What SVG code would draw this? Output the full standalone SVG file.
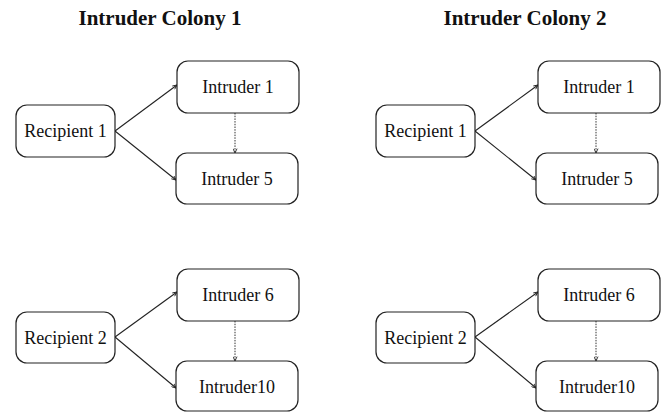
<svg xmlns="http://www.w3.org/2000/svg" width="664" height="413" viewBox="0 0 664 413">
<style>
.box{fill:#fff;stroke:#222;stroke-width:1.2}
.lbl{font-family:"Liberation Serif","Times New Roman",serif;font-size:18px;fill:#111;text-anchor:middle}
.ttl{font-family:"Liberation Serif","Times New Roman",serif;font-size:21px;font-weight:bold;fill:#111;text-anchor:middle}
.edge{stroke:#222;stroke-width:1.1;fill:none;marker-end:url(#ah)}
.dot{stroke:#333;stroke-width:1;fill:none;stroke-dasharray:1.5 1.2;marker-end:url(#ah)}
</style>
<defs>
<marker id="ah" viewBox="0 0 8 8" refX="7.5" refY="4" markerWidth="5" markerHeight="5" markerUnits="userSpaceOnUse" orient="auto">
<path d="M0.5,0.8 L7.5,4 L0.5,7.2" fill="none" stroke="#222" stroke-width="1.4"/>
</marker>
</defs>
<rect width="664" height="413" fill="#fff"/>
<text class="ttl" x="160" y="25">Intruder Colony 1</text>
<text class="ttl" x="525" y="25">Intruder Colony 2</text>
<g id="connectors">
<line class="edge" x1="115" y1="131" x2="177" y2="85"/>
<line class="edge" x1="115" y1="131" x2="176" y2="180"/>
<line class="dot" x1="235" y1="113" x2="235" y2="153"/>
<line class="edge" x1="115" y1="337" x2="177" y2="292"/>
<line class="edge" x1="115" y1="337" x2="176" y2="388"/>
<line class="dot" x1="235" y1="321" x2="235" y2="361"/>
<line class="edge" x1="475" y1="131" x2="538" y2="85"/>
<line class="edge" x1="475" y1="131" x2="536" y2="180"/>
<line class="dot" x1="596" y1="113" x2="596" y2="153"/>
<line class="edge" x1="475" y1="337" x2="538" y2="292"/>
<line class="edge" x1="475" y1="337" x2="536" y2="388"/>
<line class="dot" x1="596" y1="321" x2="596" y2="361"/>
</g>
<g id="c1-recipient1"><rect class="box" x="16" y="105" width="99" height="52" rx="11"/><text class="lbl" x="65.5" y="137">Recipient 1</text></g>
<g id="c1-intruder1"><rect class="box" x="177" y="61" width="122" height="52" rx="11"/><text class="lbl" x="238" y="93">Intruder 1</text></g>
<g id="c1-intruder5"><rect class="box" x="176" y="153" width="122" height="51" rx="11"/><text class="lbl" x="237" y="185">Intruder 5</text></g>
<g id="c1-recipient2"><rect class="box" x="16" y="312" width="99" height="51" rx="11"/><text class="lbl" x="65.5" y="344">Recipient 2</text></g>
<g id="c1-intruder6"><rect class="box" x="177" y="269" width="122" height="52" rx="11"/><text class="lbl" x="238" y="301">Intruder 6</text></g>
<g id="c1-intruder10"><rect class="box" x="176" y="361" width="122" height="50" rx="11"/><text class="lbl" x="237" y="393">Intruder10</text></g>
<g id="c2-recipient1"><rect class="box" x="376" y="105" width="99" height="52" rx="11"/><text class="lbl" x="425.5" y="137">Recipient 1</text></g>
<g id="c2-intruder1"><rect class="box" x="538" y="61" width="122" height="52" rx="11"/><text class="lbl" x="599" y="93">Intruder 1</text></g>
<g id="c2-intruder5"><rect class="box" x="536" y="153" width="122" height="51" rx="11"/><text class="lbl" x="597" y="185">Intruder 5</text></g>
<g id="c2-recipient2"><rect class="box" x="376" y="312" width="99" height="51" rx="11"/><text class="lbl" x="425.5" y="344">Recipient 2</text></g>
<g id="c2-intruder6"><rect class="box" x="538" y="269" width="122" height="52" rx="11"/><text class="lbl" x="599" y="301">Intruder 6</text></g>
<g id="c2-intruder10"><rect class="box" x="536" y="361" width="122" height="50" rx="11"/><text class="lbl" x="597" y="393">Intruder10</text></g>
</svg>
